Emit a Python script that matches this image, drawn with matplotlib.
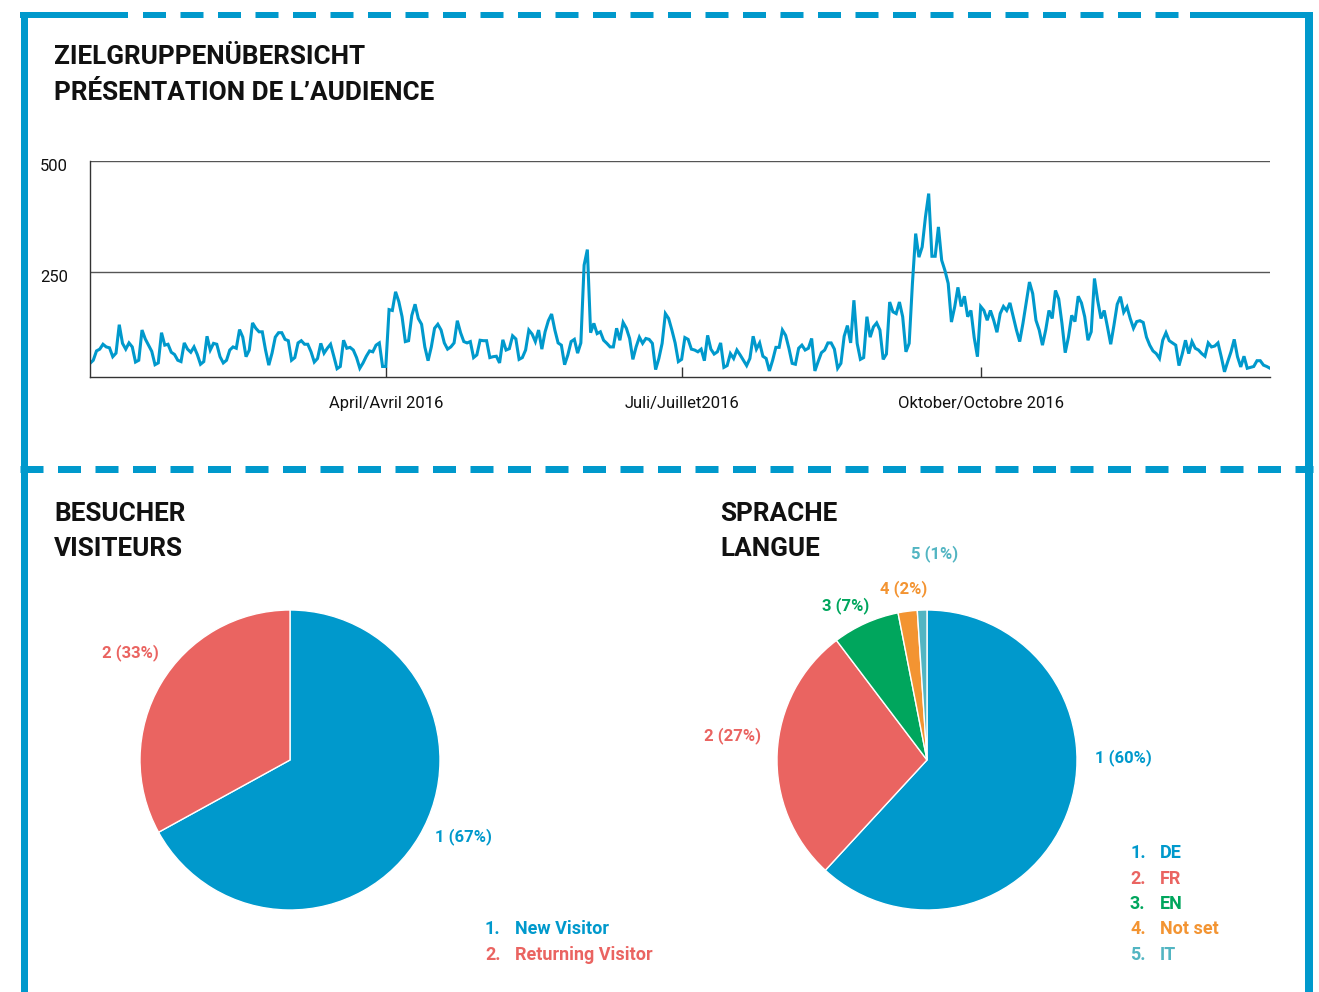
import matplotlib
matplotlib.use("Agg")
import matplotlib.pyplot as plt
from matplotlib.lines import Line2D
from matplotlib.transforms import ScaledTranslation
import pandas as pd

plt.rcParams['font.family'] = ['Roboto', 'DejaVu Sans']
plt.rcParams['lines.scale_dashes'] = False

W, H = 1319, 992

BLUE = '#0099CC'
RED = '#EA6461'
GREEN = '#00A65D'
ORANGE = '#F39432'
TEAL = '#52B5C2'
INK = '#111111'

# Sitzungen pro Tag 2016, je Quartal
visits_q1 = [45, 52, 73, 77, 88, 82, 80, 60, 68, 132, 90, 77, 91, 82, 48, 52, 120, 100, 86, 72,
             42, 46, 114, 86, 88, 70, 65, 52, 49, 91, 77, 70, 82, 65, 43, 49, 106, 75, 90, 88,
             60, 46, 52, 75, 82, 79, 121, 104, 60, 75, 136, 124, 116, 116, 75, 41, 68, 104, 114, 114,
             99, 96, 52, 58, 91, 96, 88, 88, 71, 48, 56, 90, 68, 79, 88, 61, 33, 38, 97, 79,
             81, 75, 58, 34, 46, 61, 73, 71, 86, 91, 38]
visits_q2 = [38, 166, 164, 206, 184, 150, 94, 96, 153, 178, 146, 133, 82, 51, 82, 124, 133, 120, 91, 77,
             82, 91, 141, 114, 94, 91, 94, 58, 64, 97, 96, 96, 58, 60, 61, 46, 98, 75, 78, 107,
             100, 54, 58, 75, 120, 111, 94, 120, 77, 116, 141, 156, 120, 91, 86, 42, 64, 94, 99, 68,
             91, 266, 301, 114, 135, 112, 116, 97, 90, 82, 82, 124, 97, 137, 124, 101, 54, 82, 104, 90,
             101, 99, 90, 31, 56, 90, 157, 146, 120, 91, 49]
visits_q3 = [54, 103, 99, 77, 75, 71, 77, 51, 108, 77, 66, 71, 91, 36, 40, 67, 56, 75, 64, 52,
             40, 56, 106, 77, 91, 61, 56, 28, 52, 81, 81, 120, 108, 79, 45, 43, 79, 86, 75, 79,
             101, 28, 49, 69, 75, 91, 91, 77, 34, 45, 106, 130, 91, 187, 90, 54, 58, 150, 104, 127,
             136, 120, 54, 66, 183, 161, 157, 183, 150, 71, 90, 225, 337, 284, 307, 374, 427, 286, 286, 352,
             277, 254, 225, 138, 172, 216, 173, 196, 150, 164, 103, 60]
visits_q4 = [173, 164, 142, 164, 142, 115, 157, 173, 164, 181, 150, 120, 94, 135, 181, 228, 202, 142, 120, 86,
             120, 164, 146, 209, 190, 135, 69, 104, 153, 139, 196, 181, 150, 97, 116, 236, 186, 146, 164, 127,
             88, 131, 178, 195, 160, 172, 146, 124, 139, 141, 137, 104, 86, 73, 67, 56, 97, 114, 96, 91,
             86, 40, 66, 97, 67, 94, 79, 75, 67, 61, 91, 82, 84, 91, 60, 26, 49, 71, 99, 60,
             37, 61, 34, 36, 38, 51, 51, 41, 38, 34]

tick_dates = ['2016-04-01', '2016-07-01', '2016-10-01']
tick_labels = ['April/Avril 2016', 'Juli/Juillet2016', 'Oktober/Octobre 2016']

visitor_types = ['New Visitor', 'Returning Visitor']
visitor_share = [67, 33]
visitor_colors = [BLUE, RED]

languages = ['DE', 'FR', 'EN', 'Not set', 'IT']
language_share = [60, 27, 7, 2, 1]
language_colors = [BLUE, RED, GREEN, ORANGE, TEAL]


def fx(x):
    return x / W


def fy(y):
    return 1 - y / H


def px_lw(px):
    return px * 72 / 100


fig = plt.figure(figsize=(W / 100, H / 100), dpi=100)
fig.patch.set_facecolor('white')


# Rahmen: durchgezogene und gestrichelte Linien
def frame_line(x0, y0, x1, y1, width, dashed=False):
    line = Line2D([fx(x0), fx(x1)], [fy(y0), fy(y1)], transform=fig.transFigure,
                  color=BLUE, linewidth=px_lw(width), solid_capstyle='butt',
                  dash_capstyle='butt')
    if dashed:
        line.set_dashes((px_lw(23), px_lw(14.5)))
    fig.add_artist(line)


frame_line(20, 15, 128, 15, 6)
frame_line(143, 15, 1190, 15, 6, dashed=True)
frame_line(1190, 15, 1313, 15, 6)
frame_line(24, 12, 24, 992, 7)
frame_line(1308.5, 12, 1308.5, 992, 8)
frame_line(20, 468.5, 1313, 468.5, 7, dashed=True)

# Titel
title_kw = dict(fontsize=18.8, fontweight='bold', color=INK, va='center', ha='left')
fig.text(fx(54), fy(57), 'ZIELGRUPPENÜBERSICHT', **title_kw)
fig.text(fx(54), fy(93), 'PRÉSENTATION DE L\u2019AUDIENCE', **title_kw)
fig.text(fx(54), fy(514), 'BESUCHER', **title_kw)
fig.text(fx(54), fy(549), 'VISITEURS', **title_kw)
fig.text(fx(720), fy(514), 'SPRACHE', **title_kw)
fig.text(fx(720), fy(549), 'LANGUE', **title_kw)

# Verlauf der Sitzungen
visits = visits_q1 + visits_q2 + visits_q3 + visits_q4
dates = pd.date_range('2016-01-01', periods=len(visits), freq='D')

ax = fig.add_axes([fx(90), fy(376.7), fx(1270) - fx(90), fy(160.7) - fy(376.7)])
ax.plot(dates, visits, color=BLUE, linewidth=2.2, solid_joinstyle='miter')
ax.set_xlim(dates[0], dates[-1])
ax.set_ylim(15, 501)
ax.set_yticks([250, 500])
ax.set_yticklabels(['250', '500'])
ax.set_xticks(pd.to_datetime(tick_dates))
ax.set_xticklabels(tick_labels)
ax.yaxis.grid(True, color='#555555', linewidth=1)
ax.set_axisbelow(True)
for side in ['top', 'right']:
    ax.spines[side].set_visible(False)
for side in ['left', 'bottom']:
    ax.spines[side].set_color('#333333')
    ax.spines[side].set_linewidth(1)
ax.tick_params(axis='x', direction='in', length=7, width=1, color='#333333',
               pad=14, labelsize=12, labelcolor=INK)
ax.tick_params(axis='y', length=0, pad=16, labelsize=12, labelcolor=INK)
shift = ScaledTranslation(0, -4 / 100, fig.dpi_scale_trans)
for lab in ax.get_yticklabels():
    lab.set_transform(lab.get_transform() + shift)


# Kreisdiagramme
def pie_chart(cx, cy, r, values, colors, label_pos):
    half = r * 4 / 3
    pax = fig.add_axes([fx(cx - half), fy(cy + half), 2 * half / W, 2 * half / H])
    pax.pie(values, colors=colors, startangle=90, counterclock=False, radius=1,
            wedgeprops=dict(edgecolor='white', linewidth=1))
    pax.set_xlim(-4 / 3, 4 / 3)
    pax.set_ylim(-4 / 3, 4 / 3)
    pax.axis('off')
    for i, (v, c, (lx, ly)) in enumerate(zip(values, colors, label_pos)):
        fig.text(fx(lx), fy(ly), f'{i + 1} ({v}%)', color=c, fontsize=12,
                 fontweight='bold', ha='center', va='center')


pie_chart(290, 760, 150, visitor_share, visitor_colors,
          [(463, 837), (130, 653)])
pie_chart(927, 760, 150, language_share, language_colors,
          [(1123, 758), (732, 736), (846, 606), (904, 589), (935, 554)])


# Legenden
def legend(x_num, x_txt, y0, names, colors):
    for i, (name, c) in enumerate(zip(names, colors)):
        y = y0 + i * 25.5
        fig.text(fx(x_num), fy(y), f'{i + 1}.', color=c, fontsize=13,
                 fontweight='bold', va='center', ha='left')
        fig.text(fx(x_txt), fy(y), name, color=c, fontsize=13,
                 fontweight='bold', va='center', ha='left')


legend(485, 515, 929, visitor_types, visitor_colors)
legend(1130, 1160, 853, languages, language_colors)

fig.savefig('out.png', dpi=100, facecolor='white')
